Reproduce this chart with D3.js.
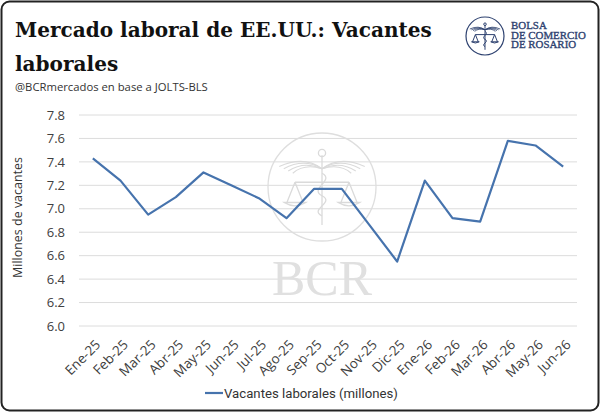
<!DOCTYPE html>
<html>
<head>
<meta charset="utf-8">
<script src="https://cdn.jsdelivr.net/npm/d3@7"></script>
<style>
  body { margin: 0; background: #fff; }
  svg { display: block; }
  .tick text { font-family: "Open Sans", sans-serif; fill: #404040; }
</style>
</head>
<body>
<svg width="600" height="412"></svg>
<script>
const months = ["Ene-25", "Feb-25", "Mar-25", "Abr-25", "May-25", "Jun-25", "Jul-25", "Ago-25", "Sep-25",
  "Oct-25", "Nov-25", "Dic-25", "Ene-26", "Feb-26", "Mar-26", "Abr-26", "May-26", "Jun-26"];
const vacantes = [7.43, 7.24, 6.95, 7.10, 7.31, 7.20, 7.09, 6.92, 7.17,
  7.17, 6.86, 6.55, 7.24, 6.92, 6.89, 7.58, 7.54, 7.36];
const yTicks = [6.0, 6.2, 6.4, 6.6, 6.8, 7.0, 7.2, 7.4, 7.6, 7.8];

const svg = d3.select("svg");
const width = +svg.attr("width");
const height = +svg.attr("height");

const margin = { top: 115, right: 23, bottom: 86, left: 79 };
const innerWidth = width - margin.left - margin.right;
const innerHeight = height - margin.top - margin.bottom;

// frame
svg.append("rect")
  .attr("x", 1.5).attr("y", 1.5)
  .attr("width", width - 3).attr("height", height - 3)
  .attr("rx", 8)
  .attr("fill", "#fff").attr("stroke", "#222").attr("stroke-width", 2);

// fit a text to a width
const fit = (sel, target) => {
  const w = sel.node().getComputedTextLength();
  const fs = parseFloat(sel.attr("font-size"));
  sel.attr("font-size", fs * target / w);
};

// title
const t1 = svg.append("text")
  .attr("x", 15).attr("y", 37)
  .attr("font-family", "DejaVu Serif").attr("font-weight", "bold")
  .attr("font-size", 20).attr("fill", "#111")
  .text("Mercado laboral de EE.UU.: Vacantes");
fit(t1, 417);
svg.append("text")
  .attr("x", 15).attr("y", 71)
  .attr("font-family", "DejaVu Serif").attr("font-weight", "bold")
  .attr("font-size", t1.attr("font-size")).attr("fill", "#111")
  .text("laborales");
const sub = svg.append("text")
  .attr("x", 15).attr("y", 91)
  .attr("font-family", "Open Sans").attr("font-size", 13).attr("fill", "#333")
  .text("@BCRmercados en base a JOLTS-BLS");
fit(sub, 193);

// logo
const navy = "#2e4270";
const logo = svg.append("g");
logo.append("circle").attr("cx", 485).attr("cy", 36).attr("r", 19)
  .attr("fill", "none").attr("stroke", navy).attr("stroke-width", 1.2);
const drawEmblem = (g, cx, cy, s, col, sw) => {
  // staff
  g.append("line").attr("x1", cx).attr("x2", cx)
    .attr("y1", cy - 0.75 * s).attr("y2", cy + 0.8 * s)
    .attr("stroke", col).attr("stroke-width", sw);
  g.append("circle").attr("cx", cx).attr("cy", cy - 0.8 * s).attr("r", 0.08 * s)
    .attr("fill", "none").attr("stroke", col).attr("stroke-width", sw);
  // wings
  [-1, 1].forEach(d => {
    for (let i = 0; i < 4; i++) {
      g.append("path")
        .attr("d", `M${cx},${cy - 0.45 * s} Q${cx + d * 0.4 * s},${cy - (0.75 - i * 0.06) * s} ${cx + d * (0.95 - i * 0.1) * s},${cy - (0.5 - i * 0.05) * s}`)
        .attr("fill", "none").attr("stroke", col).attr("stroke-width", sw * 0.8);
    }
  });
  // beam and scales
  g.append("line").attr("x1", cx - 0.6 * s).attr("x2", cx + 0.6 * s)
    .attr("y1", cy - 0.15 * s).attr("y2", cy - 0.15 * s)
    .attr("stroke", col).attr("stroke-width", sw);
  [-1, 1].forEach(d => {
    const px = cx + d * 0.6 * s;
    g.append("path")
      .attr("d", `M${px},${cy - 0.15 * s} L${px - 0.18 * s},${cy + 0.3 * s} M${px},${cy - 0.15 * s} L${px + 0.18 * s},${cy + 0.3 * s} M${px - 0.24 * s},${cy + 0.3 * s} Q${px},${cy + 0.45 * s} ${px + 0.24 * s},${cy + 0.3 * s} Z`)
      .attr("fill", "none").attr("stroke", col).attr("stroke-width", sw);
  });
  // snake
  g.append("path")
    .attr("d", `M${cx},${cy - 0.35 * s} C${cx + 0.3 * s},${cy - 0.2 * s} ${cx - 0.3 * s},${cy} ${cx},${cy + 0.15 * s} C${cx + 0.3 * s},${cy + 0.3 * s} ${cx - 0.3 * s},${cy + 0.45 * s} ${cx},${cy + 0.6 * s}`)
    .attr("fill", "none").attr("stroke", col).attr("stroke-width", sw);
};
drawEmblem(logo, 485, 37, 16, navy, 1);
const logoLines = ["BOLSA", "DE COMERCIO", "DE ROSARIO"];
const logoTexts = logoLines.map((s, i) => logo.append("text")
  .attr("x", 511).attr("y", 29 + i * 9.5)
  .attr("font-family", "Liberation Serif").attr("font-size", 12)
  .attr("fill", navy).attr("stroke", navy).attr("stroke-width", 0.35)
  .text(s));
fit(logoTexts[1], 75);
logoTexts.forEach(t => t.attr("font-size", logoTexts[1].attr("font-size")));

const g = svg.append("g")
  .attr("transform", `translate(${margin.left}, ${margin.top})`);

const xScale = d3.scaleBand()
  .domain(months)
  .range([0, innerWidth]);

const yScale = d3.scaleLinear()
  .domain([6.0, 7.8])
  .range([innerHeight, 0]);

// gridlines
g.append("g")
  .selectAll("line")
  .data(yTicks)
  .join("line")
  .attr("x1", 0).attr("x2", innerWidth)
  .attr("y1", d => yScale(d)).attr("y2", d => yScale(d))
  .attr("stroke", "#dcdcdc").attr("stroke-width", 1);

// watermark
const wm = g.append("g");
const wcx = 322 - margin.left, wcy = 187 - margin.top;
wm.append("circle").attr("cx", wcx).attr("cy", wcy).attr("r", 54)
  .attr("fill", "none").attr("stroke", "#dedede").attr("stroke-width", 1.3);
drawEmblem(wm, wcx, wcy + 2, 45, "#dadada", 1.3);
wm.append("text")
  .attr("x", wcx).attr("y", 295 - margin.top)
  .attr("text-anchor", "middle")
  .attr("font-family", "Liberation Serif").attr("font-size", 50)
  .attr("fill", "#e0e0e0").text("BCR");

// y axis
const yAxisG = g.append("g")
  .call(d3.axisLeft(yScale).tickValues(yTicks).tickFormat(d3.format(".1f")).tickSize(0).tickPadding(14));
yAxisG.select(".domain").remove();
yAxisG.selectAll("text").attr("font-size", 13);

// x axis
const xAxisG = g.append("g")
  .attr("transform", `translate(0, ${innerHeight})`)
  .call(d3.axisBottom(xScale).tickSize(0));
xAxisG.select(".domain").remove();
xAxisG.selectAll("text")
  .attr("font-size", 13.5)
  .attr("text-anchor", "end")
  .attr("dy", "0.35em")
  .attr("transform", "translate(3, 14) rotate(-45)");

// axis label
const yl = svg.append("text")
  .attr("transform", `translate(22, ${margin.top + innerHeight / 2 - 3}) rotate(-90)`)
  .attr("text-anchor", "middle")
  .attr("font-family", "Open Sans").attr("font-size", 12).attr("fill", "#333")
  .text("Millones de vacantes");
fit(yl, 121);

// line
const line = d3.line()
  .x((d, i) => xScale(months[i]) + xScale.bandwidth() / 2)
  .y(d => yScale(d));

g.append("path")
  .datum(vacantes)
  .attr("d", line)
  .attr("fill", "none")
  .attr("stroke", "#4673ad")
  .attr("stroke-width", 2.2)
  .attr("stroke-linejoin", "round");

// legend
const lg = svg.append("g").attr("transform", "translate(205, 393)");
lg.append("line").attr("x1", 0).attr("x2", 18).attr("y1", 0).attr("y2", 0)
  .attr("stroke", "#4673ad").attr("stroke-width", 2.2);
const lt = lg.append("text")
  .attr("x", 19).attr("y", 5)
  .attr("font-family", "Roboto").attr("font-size", 13).attr("fill", "#333")
  .text("Vacantes laborales (millones)");
fit(lt, 174);
</script>
</body>
</html>
